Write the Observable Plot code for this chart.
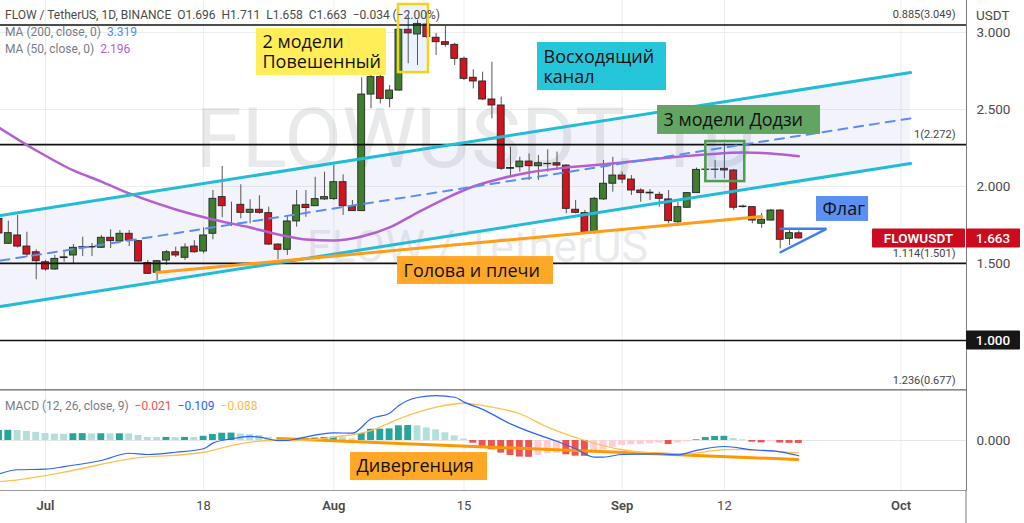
<!DOCTYPE html>
<html><head><meta charset="utf-8">
<script src="https://cdn.jsdelivr.net/npm/d3@7"></script>
<script src="https://cdn.jsdelivr.net/npm/@observablehq/plot@0.6"></script>
<style>
body{margin:0;background:#fff;}
#wrap{position:relative;width:1024px;height:523px;overflow:hidden;font-family:Roboto,"Open Sans",sans-serif;}
#wrap svg{display:block;overflow:visible;}
.leg{position:absolute;left:5px;font-size:12px;color:#555;white-space:pre;line-height:1;}
</style></head><body><div id="wrap"></div>
<script>
// ---------- candle data (FLOW / TetherUS, 1D) ----------
const dates = ["2022-06-26","2022-06-27","2022-06-28","2022-06-29","2022-06-30",
"2022-07-01","2022-07-02","2022-07-03","2022-07-04","2022-07-05","2022-07-06","2022-07-07","2022-07-08","2022-07-09","2022-07-10",
"2022-07-11","2022-07-12","2022-07-13","2022-07-14","2022-07-15","2022-07-16","2022-07-17","2022-07-18","2022-07-19","2022-07-20",
"2022-07-21","2022-07-22","2022-07-23","2022-07-24","2022-07-25","2022-07-26","2022-07-27","2022-07-28","2022-07-29","2022-07-30","2022-07-31",
"2022-08-01","2022-08-02","2022-08-03","2022-08-04","2022-08-05","2022-08-06","2022-08-07","2022-08-08","2022-08-09","2022-08-10",
"2022-08-11","2022-08-12","2022-08-13","2022-08-14","2022-08-15","2022-08-16","2022-08-17","2022-08-18","2022-08-19","2022-08-20",
"2022-08-21","2022-08-22","2022-08-23","2022-08-24","2022-08-25","2022-08-26","2022-08-27","2022-08-28","2022-08-29","2022-08-30","2022-08-31",
"2022-09-01","2022-09-02","2022-09-03","2022-09-04","2022-09-05","2022-09-06","2022-09-07","2022-09-08","2022-09-09","2022-09-10",
"2022-09-11","2022-09-12","2022-09-13","2022-09-14","2022-09-15","2022-09-16","2022-09-17","2022-09-18","2022-09-19","2022-09-20"];
const open  = [1.790,1.628,1.682,1.610,1.573, 1.508,1.461,1.540,1.552,1.606,1.604,1.602,1.667,1.643,1.693, 1.645,1.503,1.440,1.519,1.573,1.537,1.610,1.578,1.693,1.931,
1.873,1.881,1.829,1.849,1.827,1.623,1.589,1.773,1.881,1.872,1.916, 1.918,2.028,1.870,1.840,2.597,2.710,2.569,2.623,3.018,2.987,
3.052,2.966,2.937,2.920,2.829,2.706,2.682,2.565,2.526,2.115, 2.125,2.162,2.132,2.145,2.151,2.136,1.849,1.827,1.703,1.916,2.018,
2.071,2.045,1.974,1.960,1.946,1.916,1.768,1.862,1.957,2.108, 2.110,2.115,2.104,1.870,1.866,1.758,1.779,1.844,1.660,1.696];
const high  = [1.805,1.775,1.812,1.703,1.589, 1.520,1.552,1.573,1.623,1.671,1.630,1.682,1.719,1.714,1.714, 1.650,1.520,1.520,1.584,1.606,1.628,1.649,1.732,1.974,2.130,
1.898,2.011,1.914,1.940,1.866,1.628,1.812,1.974,1.974,2.060,2.093, 2.136,2.076,1.909,2.706,2.742,2.742,2.656,3.024,3.110,3.080,
3.130,2.994,3.039,2.930,2.840,2.758,2.742,2.807,2.580,2.255, 2.190,2.212,2.201,2.238,2.223,2.140,1.909,1.844,1.930,2.169,2.190,
2.093,2.071,1.985,1.980,1.963,1.974,1.898,1.960,2.120,2.234, 2.169,2.277,2.110,1.880,1.870,1.823,1.850,1.850,1.714,1.711];
const low   = [1.690,1.624,1.600,1.537,1.394, 1.450,1.455,1.508,1.494,1.545,1.545,1.597,1.597,1.638,1.610, 1.508,1.430,1.390,1.487,1.539,1.519,1.567,1.563,1.654,1.797,
1.740,1.790,1.758,1.820,1.617,1.524,1.552,1.736,1.800,1.870,1.910, 1.909,1.812,1.838,1.838,2.505,2.537,2.511,2.619,2.797,2.786,
2.960,2.851,2.905,2.786,2.688,2.634,2.558,2.440,2.104,2.060, 2.093,2.039,2.039,2.093,2.104,1.823,1.823,1.693,1.688,1.910,1.963,
2.018,1.942,1.898,1.909,1.866,1.758,1.740,1.860,1.955,2.060, 2.050,2.050,1.844,1.860,1.758,1.729,1.775,1.595,1.617,1.658];
const close = [1.695,1.697,1.610,1.558,1.515, 1.461,1.530,1.535,1.602,1.604,1.607,1.667,1.645,1.693,1.649, 1.513,1.433,1.515,1.573,1.552,1.604,1.573,1.682,1.920,1.872,
1.873,1.829,1.849,1.829,1.623,1.589,1.773,1.877,1.860,1.918,1.931, 2.028,1.872,1.840,2.597,2.710,2.569,2.623,3.018,2.994,3.056,
2.970,2.937,2.920,2.829,2.699,2.682,2.565,2.526,2.115,2.120, 2.162,2.132,2.151,2.147,2.136,1.855,1.829,1.703,1.920,2.018,2.071,
2.045,1.974,1.957,1.955,1.920,1.775,1.866,1.957,2.108,2.110, 2.108,2.104,1.862,1.866,1.779,1.784,1.844,1.654,1.697,1.663];

// MA (50)
const ma50Dates  = ["2022-06-26","2022-06-30","2022-07-04","2022-07-07","2022-07-10","2022-07-15","2022-07-19","2022-07-23","2022-07-26","2022-07-29","2022-08-01","2022-08-04","2022-08-07","2022-08-10","2022-08-13","2022-08-16","2022-08-19","2022-08-22","2022-08-26","2022-08-31","2022-09-05","2022-09-10","2022-09-14","2022-09-17","2022-09-20"];
const ma50Values = [2.383,2.234,2.104,2.032,1.955,1.851,1.786,1.734,1.688,1.656,1.649,1.675,1.734,1.831,1.922,2.000,2.052,2.091,2.123,2.149,2.182,2.208,2.221,2.214,2.196];

// MACD (12, 26, close, 9)
const hist = [0.072,0.073,0.071,0.065,0.058, 0.050,0.045,0.044,0.048,0.049,0.047,0.048,0.047,0.048,0.047, 0.036,0.022,0.021,0.022,0.021,0.022,0.021,0.030,0.043,0.052,
0.053,0.046,0.042,0.036,0.022,0.006,0.008,0.011,0.013,0.017,0.021, 0.024,0.020,0.012,0.050,0.080,0.081,0.083,0.105,0.107,0.105,
0.090,0.076,0.055,0.033,0.010,-0.019,-0.043,-0.067,-0.090,-0.107, -0.118,-0.120,-0.107,-0.095,-0.090,-0.102,-0.112,-0.113,-0.083,-0.067,-0.048,
-0.036,-0.031,-0.029,-0.024,-0.019,-0.029,-0.019,-0.010,0.005,0.021, 0.029,0.030,0.014,0.005,-0.012,-0.017,-0.010,-0.018,-0.020,-0.021];
const macdDates  = ["2022-06-26","2022-06-28","2022-07-01","2022-07-03","2022-07-07","2022-07-10","2022-07-12","2022-07-15","2022-07-18","2022-07-19","2022-07-21","2022-07-23","2022-07-24","2022-07-26","2022-07-27","2022-07-28","2022-08-01","2022-08-03","2022-08-05","2022-08-07","2022-08-08","2022-08-10","2022-08-12","2022-08-14","2022-08-15","2022-08-17","2022-08-20","2022-08-23","2022-08-25","2022-08-27","2022-08-29","2022-08-30","2022-09-01","2022-09-05","2022-09-07","2022-09-09","2022-09-12","2022-09-15","2022-09-18","2022-09-20"];
const macdValues = [-0.238,-0.209,-0.205,-0.186,-0.143,-0.091,-0.100,-0.084,-0.059,-0.019,0.012,0.029,0.024,0.000,0.000,0.012,0.055,0.052,0.155,0.195,0.250,0.307,0.321,0.309,0.274,0.222,0.119,0.040,-0.005,-0.059,-0.118,-0.118,-0.100,-0.095,-0.102,-0.071,-0.043,-0.066,-0.081,-0.109];
const signalDates  = ["2022-06-26","2022-06-28","2022-07-03","2022-07-10","2022-07-18","2022-07-21","2022-07-25","2022-07-28","2022-08-01","2022-08-05","2022-08-08","2022-08-12","2022-08-15","2022-08-17","2022-08-21","2022-08-24","2022-08-28","2022-09-01","2022-09-05","2022-09-08","2022-09-11","2022-09-13","2022-09-17","2022-09-20"];
const signalValues = [-0.295,-0.281,-0.226,-0.131,-0.084,-0.036,0.000,0.000,0.024,0.071,0.155,0.238,0.266,0.250,0.191,0.095,0.000,-0.066,-0.091,-0.095,-0.071,-0.064,-0.076,-0.088];

// drawn levels and trend lines
const fibPrices = [3.049, 2.272, 1.501, 1.000, 0.677];
const fibLabels = ["0.885(3.049)", "1(2.272)", "1.114(1.501)", "", "1.236(0.677)"];
const channelDates = ["2022-06-26T03:50Z", "2022-10-02T00:15Z"];
const channelUpper = [1.812, 2.740];
const channelMid   = [1.519, 2.442];
const channelLower = [1.221, 2.149];
const necklineDates  = ["2022-07-12T22:30Z", "2022-09-16T00:30Z"];
const necklinePrices = [1.442, 1.805];
const flagTopDates = ["2022-09-18T00:45Z", "2022-09-22T20:50Z"];
const flagTopPrices = [1.725, 1.725];
const flagBottomDates = ["2022-09-18T00:45Z", "2022-09-22T20:50Z"];
const flagBottomPrices = [1.573, 1.721];
const divergenceDates = ["2022-07-25T22:50Z", "2022-09-19T21:20Z"];
const divergenceValues = [0.014, -0.136];

// annotations (text, date range, price range)
const noteTexts  = ["2 модели\nПовешенный", "Восходящий\nканал", "3 модели Додзи", "Флаг", "Голова и плечи"];
const noteKinds  = ["yellow", "cyan", "green", "blue", "orange"];
const noteStart  = ["2022-07-23T16:30Z", "2022-08-22T21:40Z", "2022-09-04T19:30Z", "2022-09-21T21:40Z", "2022-08-07T20:25Z"];
const noteEnd    = ["2022-08-06T16:00Z", "2022-09-05T18:30Z", "2022-09-22T08:00Z", "2022-09-27T12:00Z", "2022-08-24T15:00Z"];
const noteTop    = [3.026, 2.935, 2.526, 1.935, 1.545];
const noteBottom = [2.721, 2.623, 2.338, 1.773, 1.364];
const boxKinds  = ["yellow", "green"];
const boxStart  = ["2022-08-07T23:00Z", "2022-09-10T00:00Z"];
const boxEnd    = ["2022-08-11T04:20Z", "2022-09-14T04:30Z"];
const boxTop    = [3.182, 2.292];
const boxBottom = [2.740, 2.032];
const macdNoteText = ["Дивергенция"];
const macdNoteStart = ["2022-08-02T19:10Z"], macdNoteEnd = ["2022-08-17T12:40Z"];
const macdNoteTop = [-0.086], macdNoteBottom = [-0.286];

// axis
const tickDates  = ["2022-07-01","2022-07-18","2022-08-01","2022-08-15","2022-09-01","2022-09-12","2022-10-01"];
const tickLabels = ["Jul","18","Aug","15","Sep","12","Oct"];
const priceTicks = [1.5, 2.0, 2.5, 3.0];
const lastClose = 1.663;

// ---------- styling ----------
const UP = "#3f7e2c", DOWN = "#d1141d";
const noteFill = {yellow:"#ffee58", cyan:"#26c6da", green:"#62a462", blue:"#5b8ff2", orange:"#ffa726"};
const boxStroke = {yellow:"#f5d416", green:"#4f9e4f"};
const FONT = "Roboto, 'Open Sans', sans-serif";

const P = s => new Date(s.length === 10 ? s + "T00:00Z" : s);
const candles = dates.map((d, i) => ({date: P(d), open: open[i], high: high[i], low: low[i], close: close[i]}));
const HALF = 0.37 * 864e5;
const ma50 = ma50Dates.map((d, i) => ({date: P(d), v: ma50Values[i]}));
const histData = hist.map((v, i) => ({date: P(dates[i]), v, prev: i ? hist[i-1] : v}));
const macdLine = macdDates.map((d, i) => ({date: P(d), v: macdValues[i]}));
const signalLine = signalDates.map((d, i) => ({date: P(d), v: signalValues[i]}));
const fib = fibPrices.map((p, i) => ({price: p, label: fibLabels[i]}));
const channel = channelDates.map((d, i) => ({date: P(d), up: channelUpper[i], mid: channelMid[i], lo: channelLower[i]}));
const pairs = (ds, vs) => ds.map((d, i) => ({date: P(d), v: vs[i]}));
const notes = noteTexts.map((t, i) => ({text: t, kind: noteKinds[i], d1: P(noteStart[i]), d2: P(noteEnd[i]), p1: noteTop[i], p2: noteBottom[i]}));
const boxes = boxKinds.map((k, i) => ({kind: k, d1: P(boxStart[i]), d2: P(boxEnd[i]), p1: boxTop[i], p2: boxBottom[i]}));
const macdNotes = macdNoteText.map((t, i) => ({text: t, d1: P(macdNoteStart[i]), d2: P(macdNoteEnd[i]), p1: macdNoteTop[i], p2: macdNoteBottom[i]}));
const ticks = tickDates.map(P);
const labelOf = d => tickLabels[ticks.findIndex(t => +t === +d)];
const monthTicks = ticks.filter((d, i) => isNaN(+tickLabels[i]));
const dayTicks = ticks.filter((d, i) => !isNaN(+tickLabels[i]));

const xDomain = [P("2022-06-26T03:50Z"), P("2022-10-08T00:45Z")];
const GRID = "#ededed";

const chart1 = Plot.plot({
  width: 1024, height: 390, marginLeft: 0, marginRight: 58, marginTop: 0, marginBottom: 0,
  x: {type: "utc", domain: xDomain, axis: null},
  y: {domain: [0.6753, 3.2078], axis: null},
  style: {fontFamily: FONT, background: "transparent", overflow: "visible"},
  marks: [
    Plot.gridX(ticks, {stroke: GRID, strokeOpacity: 1}),
    Plot.gridY(priceTicks, {stroke: GRID, strokeOpacity: 1}),
    Plot.areaY(channel, {x: "date", y1: "lo", y2: "up", fill: "#5d5dc8", fillOpacity: 0.075}),
    Plot.text(["FLOWUSDT, 1D"], {text: d => d, frameAnchor: "top", dx: -8, dy: 140, fontSize: 84, fill: "#787b86", fillOpacity: 0.17, lineAnchor: "middle"}),
    Plot.text(["FLOW / TetherUS"], {text: d => d, frameAnchor: "top", dx: -6, dy: 247, fontSize: 45, fill: "#787b86", fillOpacity: 0.17, lineAnchor: "middle"}),
    Plot.ruleX(candles, {x: "date", y1: "low", y2: "high", stroke: "#555", strokeWidth: 1}),
    Plot.rect(candles, {x1: d => new Date(+d.date - HALF), x2: d => new Date(+d.date + HALF), y1: "open", y2: "close",
      fill: d => d.close >= d.open ? UP : DOWN, stroke: "#262626", strokeWidth: 0.9}),
    Plot.ruleY(fib, {y: "price", stroke: "#111", strokeWidth: 1.6}),
    Plot.text(fib, {y: "price", text: "label", frameAnchor: "right", textAnchor: "end", dx: -11, dy: -10, fontSize: 11, fill: "#444"}),
    Plot.line(ma50, {x: "date", y: "v", stroke: "#b35fd0", strokeWidth: 2.5, curve: "monotone-x"}),
    Plot.line(channel, {x: "date", y: "up", stroke: "#22bcd6", strokeWidth: 3}),
    Plot.line(channel, {x: "date", y: "lo", stroke: "#22bcd6", strokeWidth: 3}),
    Plot.line(channel, {x: "date", y: "mid", stroke: "#5b8ef0", strokeWidth: 2, strokeDasharray: "9,7"}),
    Plot.line(pairs(necklineDates, necklinePrices), {x: "date", y: "v", stroke: "#ff9d18", strokeWidth: 3}),
    Plot.line(pairs(flagTopDates, flagTopPrices), {x: "date", y: "v", stroke: "#3b7ff2", strokeWidth: 2.5}),
    Plot.line(pairs(flagBottomDates, flagBottomPrices), {x: "date", y: "v", stroke: "#3b7ff2", strokeWidth: 2.5}),
    Plot.rect(boxes, {x1: "d1", x2: "d2", y1: "p1", y2: "p2", fill: "#2f7fe8", fillOpacity: 0.09, stroke: d => boxStroke[d.kind], strokeWidth: 2.5}),
    Plot.rect(notes, {x1: "d1", x2: "d2", y1: "p1", y2: "p2", fill: d => noteFill[d.kind]}),
    Plot.text(notes, {x: "d1", y: d => (d.p1 + d.p2) / 2, text: "text", textAnchor: "start", dx: 6, fontSize: 18, lineHeight: 1.1, fill: "#111", fontFamily: "'Open Sans', sans-serif"}),
    Plot.ruleX([xDomain[1]], {stroke: "#7a7a7a", strokeWidth: 1}),
    Plot.axisY(priceTicks, {anchor: "right", tickSize: 0, tickPadding: 10, tickFormat: d3.format(".3f"), fontSize: 13.5, fill: "#4a4a4a", label: null})
  ]
});

const chart2 = Plot.plot({
  width: 1024, height: 133, marginLeft: 0, marginRight: 58, marginTop: 0, marginBottom: 33,
  x: {type: "utc", domain: xDomain, axis: null},
  y: {domain: [-0.357, 0.357], axis: null},
  style: {fontFamily: FONT, background: "transparent", overflow: "visible"},
  marks: [
    Plot.gridX(ticks, {stroke: GRID, strokeOpacity: 1}),
    Plot.ruleY([0], {stroke: "#e6e6e6"}),
    Plot.rect(histData, {x1: d => new Date(+d.date - HALF), x2: d => new Date(+d.date + HALF), y1: 0, y2: "v",
      fill: d => d.v >= 0 ? (d.v >= d.prev ? "#26a69a" : "#b2dfdb") : (d.v < d.prev ? "#ef5350" : "#ffcdd2")}),
    Plot.line(pairs(divergenceDates, divergenceValues), {x: "date", y: "v", stroke: "#ff9800", strokeWidth: 3}),
    Plot.line(signalLine, {x: "date", y: "v", stroke: "#ffc04d", strokeWidth: 1.3, curve: "monotone-x"}),
    Plot.line(macdLine, {x: "date", y: "v", stroke: "#2962ff", strokeWidth: 1.2, curve: "monotone-x"}),
    Plot.rect(macdNotes, {x1: "d1", x2: "d2", y1: "p1", y2: "p2", fill: noteFill.orange}),
    Plot.text(macdNotes, {x: "d1", y: d => (d.p1 + d.p2) / 2, text: "text", textAnchor: "start", dx: 6, fontSize: 18, fill: "#111", fontFamily: "'Open Sans', sans-serif"}),
    Plot.ruleY([0.357], {stroke: "#b5b5b5"}),
    Plot.ruleY([-0.357], {stroke: "#9a9a9a"}),
    Plot.ruleX([xDomain[1]], {stroke: "#7a7a7a", strokeWidth: 1}),
    Plot.axisY([0], {anchor: "right", tickSize: 0, tickPadding: 10, tickFormat: d3.format(".3f"), fontSize: 13.5, fill: "#4a4a4a", label: null}),
    Plot.axisX(monthTicks, {anchor: "bottom", tickSize: 0, tickPadding: 10, tickFormat: labelOf, fontSize: 13, fontWeight: 600, fill: "#4a4a4a", label: null}),
    Plot.axisX(dayTicks, {anchor: "bottom", tickSize: 0, tickPadding: 10, tickFormat: labelOf, fontSize: 13, fill: "#4a4a4a", label: null})
  ]
});

const wrap = document.getElementById("wrap");
wrap.appendChild(chart1);
wrap.appendChild(chart2);

// axis price labels, placed with the chart's own scales
const ys = chart1.scale("y"), xs = chart1.scale("x");
const right = xs.apply(xDomain[1]);
const s1 = d3.select(chart1);
function tag(svg, x0, x1, yc, fill, text, weight) {
  svg.append("rect").attr("x", x0).attr("y", yc - 9.5).attr("width", x1 - x0).attr("height", 19).attr("fill", fill).attr("rx", 1);
  svg.append("text").attr("x", (x0 + x1) / 2).attr("y", yc).attr("dy", "0.36em").attr("text-anchor", "middle")
    .attr("fill", "#fff").attr("font-size", 13.5).attr("font-weight", weight).attr("font-family", FONT).text(text);
}
tag(s1, right - 94, right - 1, ys.apply(lastClose), "#cc0b1f", "FLOWUSDT", 600);
tag(s1, right, right + 54, ys.apply(lastClose), "#cc0b1f", d3.format(".3f")(lastClose), 500);
tag(s1, right, right + 54, ys.apply(1.0), "#161616", "1.000", 500);
s1.append("text").attr("x", right + 10).attr("y", 15).attr("dy", "0.36em").attr("text-anchor", "start").attr("fill", "#4a4a4a")
  .attr("font-size", 13.5).attr("font-family", FONT).text("USDT");
d3.select(chart2).append("line").attr("x1", right).attr("x2", right).attr("y1", 100).attr("y2", 133).attr("stroke", "#7a7a7a");

// legends (overlaid like the original)
function legend(top, parts) {
  const div = document.createElement("div");
  div.className = "leg"; div.style.top = top + "px";
  parts.forEach(([t, c]) => { const s = document.createElement("span"); s.textContent = t; if (c) s.style.color = c; div.appendChild(s); });
  wrap.appendChild(div);
}
legend(9, [["FLOW / TetherUS, 1D, BINANCE  O1.696  H1.711  L1.658  C1.663  \u22120.034 (\u22122.00%)", "#4a4a4a"]]);
legend(26, [["MA (200, close, 0)  ", "#787b86"], ["3.319", "#4d8cf5"]]);
legend(43, [["MA (50, close, 0)  ", "#787b86"], ["2.196", "#b35fd0"]]);
legend(400, [["MACD (12, 26, close, 9)  ", "#787b86"], ["\u22120.021  ", "#ef5350"], ["\u22120.109  ", "#2962ff"], ["\u22120.088", "#ffb74d"]]);
</script></body></html>
